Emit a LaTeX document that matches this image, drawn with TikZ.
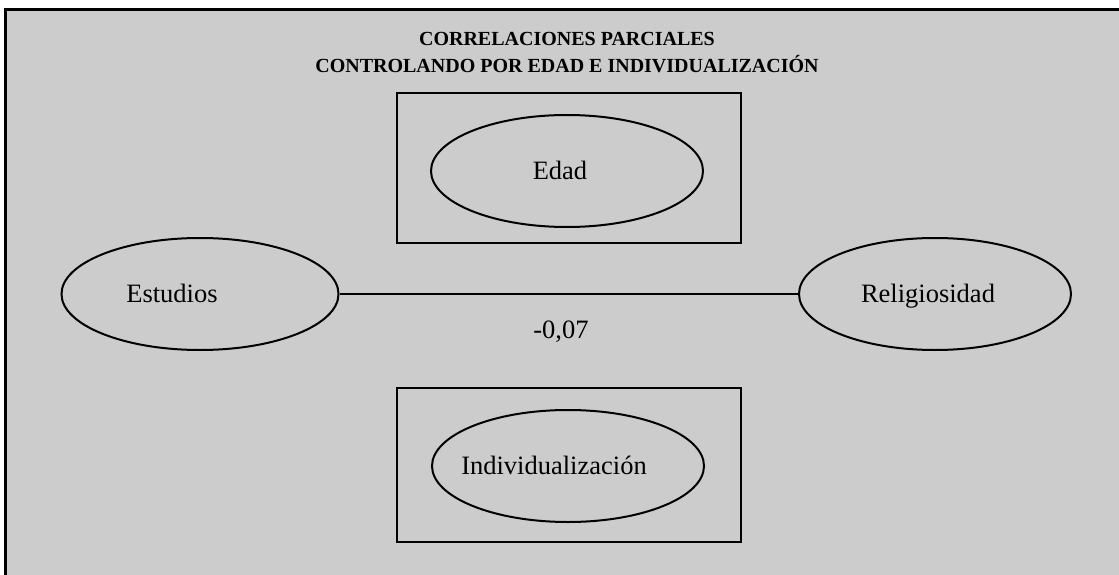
\documentclass[tikz,border=0pt]{standalone}
\usepackage{fontspec}
\setmainfont{Liberation Serif}
\usepackage{xcolor}
\usepackage{tikz}
\usetikzlibrary{shapes.geometric}

\begin{document}
\begin{tikzpicture}[x=1pt, y=-1pt,
    var/.style={ellipse, draw, line width=2pt, inner sep=0pt,
      minimum width=272, minimum height=112},
    lbl/.style={font=\fontsize{26.5}{30}\selectfont, inner sep=0pt,
      text height=17.5pt, text depth=0pt},
    marco/.style={rectangle, draw, line width=2pt, inner sep=0pt,
      minimum width=344}]
  \useasboundingbox (0,0) rectangle (1119,575);
  \fill[black!20] (5,10) rectangle (1119,575);
  \draw[line width=3pt] (5,575) -- (5,10) -- (1119,10);

  \node[align=center, font=\fontsize{20}{27}\selectfont\bfseries] (titulo) at (567,53)
    {CORRELACIONES PARCIALES\\CONTROLANDO POR EDAD E INDIVIDUALIZACIÓN};

  \node[marco, minimum height=150] (caja1) at (569,168) {};
  \node[marco, minimum height=154] (caja2) at (569,465) {};

  \node[var, label={[lbl, xshift=-7]center:Edad}] (edad) at (567,171) {};
  \node[var, label={[lbl, xshift=-14]center:Individualización}] (indiv) at (568,466) {};
  \node[var, minimum width=277, label={[lbl, xshift=-28]center:Estudios}] (estud) at (200,294) {};
  \node[var, label={[lbl, xshift=-7]center:Religiosidad}] (relig) at (935,294) {};

  \draw[line width=2pt] (estud.east) -- (relig.west);
  \node[lbl] (coef) at (561,330) {-0,07};
\end{tikzpicture}
\end{document}
